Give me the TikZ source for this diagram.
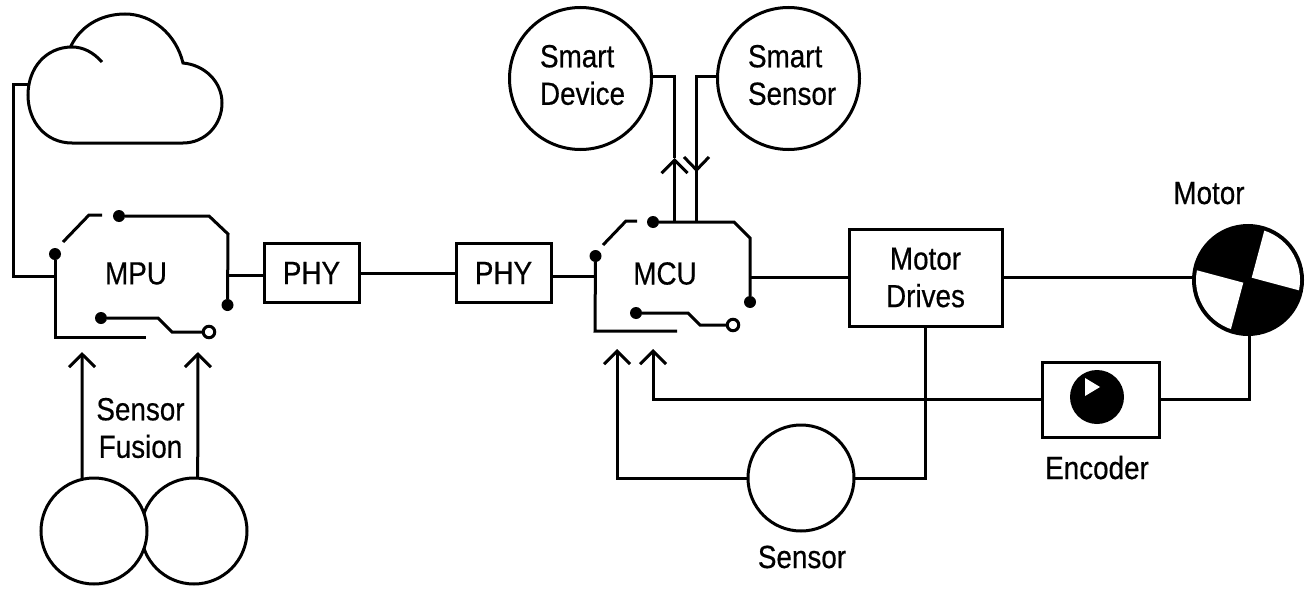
\documentclass[tikz,border=0pt]{standalone}
\usepackage{fontspec}
\setmainfont[FakeStretch=0.87,FakeBold=0.5]{Liberation Sans}
\usetikzlibrary{arrows.meta}
\tikzset{
  wire/.style={line width=3pt},
  barb/.style={wire,-{Straight Barb[length=13pt,width=26pt]}},
  boxnode/.style={draw,line width=3pt,inner sep=0pt,outer sep=0pt,font=\fontsize{32}{37.5}\selectfont,align=center},
  ring/.style={circle,draw,line width=3pt,inner sep=0pt,outer sep=0pt,fill=white},
  dot/.style={circle,fill=black,inner sep=0pt,outer sep=0pt,minimum size=12pt},
  opendot/.style={circle,draw,line width=3pt,fill=white,inner sep=0pt,outer sep=0pt,minimum size=11.5pt},
  lbl/.style={font=\fontsize{32}{37.5}\selectfont,inner sep=0pt,outer sep=0pt,align=center},
  lblleft/.style={lbl,align=left,anchor=west}
}
\begin{document}
\begin{tikzpicture}[x=1pt,y=-1pt]
\useasboundingbox (0,0) rectangle (1307,589);
\fill[white] (0,0) rectangle (1307,589);

% Cloud
\draw[wire] (102,62) .. controls (93,52) and (83,47) .. (72,47)
  .. controls (46,47) and (28,68) .. (28,95)
  .. controls (28,122) and (46,143) .. (72,143) -- (183,143)
  .. controls (205,143) and (222,125) .. (222,103)
  .. controls (222,82) and (205,65) .. (183,63)
  .. controls (176,34) and (152,14) .. (125,14)
  .. controls (100,14) and (80,27) .. (71,46);
\coordinate (cloud) at (28,84);
\coordinate (cloudturn) at (13,84);

% Boxes
\node[boxnode,minimum width=95pt,minimum height=59pt] (phya) at (311.5,273) {PHY};
\node[boxnode,minimum width=95pt,minimum height=59pt] (phyb) at (503.5,273) {PHY};
\node[boxnode,minimum width=153pt,minimum height=97pt] (drives) at (925.5,277.5) {Motor\\Drives};
\node[boxnode,minimum width=117pt,minimum height=75pt] (enc) at (1100.5,399.5) {};
\node[circle,fill=black,inner sep=0pt,minimum size=54pt] (encdisc) at (1097,397) {};
\fill[white] (1085,378) -- (1100,387) -- (1085,396) -- cycle;

% Circles
\node[ring,minimum size=142pt] (sdev) at (580.5,78.5) {};
\node[ring,minimum size=142pt] (ssen) at (788.5,78.5) {};
\node[ring,minimum size=106pt] (senso) at (801,478) {};
\node[ring,minimum size=106pt] (fusr) at (194,531) {};
\node[ring,minimum size=106pt] (fusl) at (94,531) {};

% Motor
\node[circle,fill=black,draw=black,line width=4pt,inner sep=0pt,outer sep=0pt,minimum size=108pt] (motor) at (1248,280) {};
\begin{scope}
\clip (1248,280) circle (52pt);
\fill[white] (1251.7,277.7) -- (1309.7,293.2) -- (1325,235) -- (1267.2,219.7) -- cycle;
\fill[white] (1243.3,282.7) -- (1185.3,267.2) -- (1170,325.2) -- (1227.8,340.7) -- cycle;
\end{scope}

% MPU symbol
\node[dot] (mpuL) at (55,254) {};
\node[dot] (mpuT) at (119,216) {};
\node[dot] (mpuR) at (227.5,305) {};
\node[dot] (mpuB) at (101,318) {};
\node[opendot] (mpuO) at (209,332) {};
\coordinate (mpuWestW) at (55,276);
\coordinate (mpuEastW) at (228,275);
\coordinate (mpuA) at (82,352);
\coordinate (mpuC) at (198,352);
\draw[wire] (mpuL) -- (55,337) -- (146,337);
\draw[wire] (63,242) -- (89,215) -- (102,215);
\draw[wire] (mpuT) -- (209,216) -- (228,234) -- (mpuR);
\draw[wire] (mpuB) -- (158,318) -- (172,332) -- (mpuO);

% MCU symbol
\node[dot] (mcuL) at (595.5,256) {};
\node[dot] (mcuT) at (653,222) {};
\node[dot] (mcuR) at (750,302) {};
\node[dot] (mcuB) at (636,313) {};
\node[opendot] (mcuO) at (733,325) {};
\coordinate (mcuWestW) at (595,276);
\coordinate (mcuEastW) at (750,277);
\coordinate (mcuA) at (617,349);
\coordinate (mcuC) at (653,349);
\coordinate (mcuUp) at (674.5,222);
\coordinate (mcuDn) at (696.5,222);
\coordinate (upTip) at (674.5,158);
\coordinate (dnTip) at (696.5,170);
\coordinate (dnWingL) at (684,157);
\coordinate (dnWingR) at (709,157);
\draw[wire] (mcuL) -- (595,331) -- (677,331);
\draw[wire] (603,245) -- (626,221) -- (637,221);
\draw[wire] (mcuT) -- (734,222) -- (750,238) -- (mcuR);
\draw[wire] (mcuB) -- (688,313) -- (700,325) -- (mcuO);

% Connectors
\draw[wire] (mpuWestW) -| (cloudturn) -- (cloud);
\draw[wire] (mpuEastW) -- (mpuEastW -| phya.west);
\draw[wire] (phya.east) -- (phyb.west);
\draw[wire] (phyb.east |- mcuWestW) -- (mcuWestW);
\draw[wire] (mcuEastW) -- (mcuEastW -| drives.west);
\draw[wire] (drives.east) -- (motor.west |- drives.east);
\draw[wire] (enc.east) -| (motor.272);
\draw[barb] (enc.west) -| (mcuC);
\draw[barb] (senso.west) -| (mcuA);
\draw[wire] (senso.east) -| (drives.south);
\draw[barb] (fusl.103) -- (mpuA);
\draw[barb] (fusr.86) -- (mpuC);
\draw[barb] (mcuUp) -- (upTip);
\draw[wire] (upTip) |- (sdev.2);
\draw[wire] (ssen.178) -| (dnTip);
\draw[wire] (dnTip) -- (mcuDn);
\draw[wire] (dnWingL) -- (dnTip) -- (dnWingR);

% Labels
\node[lbl] (mpuText) at (136,273.5) {MPU};
\node[lbl] (mcuText) at (665,273.5) {MCU};
\node[lblleft] (sdevText) at (540,75) {Smart\\Device};
\node[lblleft] (ssenText) at (748,75) {Smart\\Sensor};
\node[lbl] (fusText) at (140.5,428) {Sensor\\Fusion};
\node[lbl,anchor=base] (sensoText) at (802,568) {Sensor};
\node[lbl,anchor=base] (encText) at (1097,479) {Encoder};
\node[lbl,anchor=base] (motorText) at (1209,204) {Motor};
\end{tikzpicture}
\end{document}
